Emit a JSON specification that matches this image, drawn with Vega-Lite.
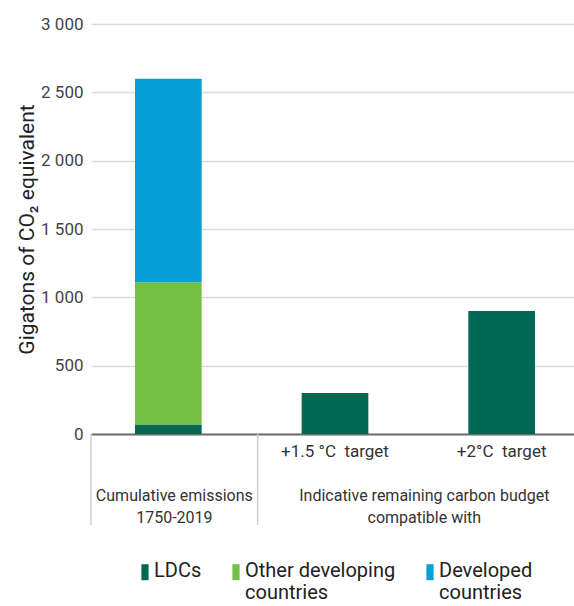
{
  "$schema": "https://vega.github.io/schema/vega-lite/v6.json",
  "width": 483,
  "height": 410,
  "autosize": {"type": "none"},
  "padding": {"left": 91, "top": 24, "right": 0, "bottom": 172},
  "config": {"font": "Roboto", "view": {"stroke": null}},
  "resolve": {"scale": {"x": "independent"}},
  "layer": [
    {
      "data": {"values": [
        {"label": "", "region": "LDCs", "rank": 1, "value": 70},
        {"label": "", "region": "Other developing countries", "rank": 2, "value": 1040},
        {"label": "", "region": "Developed countries", "rank": 3, "value": 1490},
        {"label": "+1.5 °C\u00a0 target", "region": "LDCs", "rank": 1, "value": 300},
        {"label": "+2°C\u00a0 target", "region": "LDCs", "rank": 1, "value": 900}
      ]},
      "mark": {"type": "bar"},
      "encoding": {
        "x": {
          "field": "label", "type": "nominal", "sort": null,
          "scale": {"range": [0, 500], "paddingInner": 0.6, "paddingOuter": 0.3, "align": 0.44},
          "axis": {"title": null, "ticks": false, "domain": true, "domainColor": "#6d6d6d", "domainWidth": 2,
                   "labelFontSize": 17, "labelColor": "#333333", "labelPadding": 9, "labelAngle": 0, "grid": false}
        },
        "y": {
          "field": "value", "type": "quantitative",
          "scale": {"domain": [0, 3000], "nice": false},
          "axis": {"values": [0, 500, 1000, 1500, 2000, 2500, 3000], "title": "Gigatons of CO₂ equivalent",
                   "grid": true, "gridColor": "#dadada", "gridWidth": 1.5, "domain": false, "ticks": false,
                   "labelExpr": "replace(format(datum.value, ','), ',', ' ')",
                   "labelFontSize": 17, "labelColor": "#444444", "labelPadding": 8,
                   "titleFontSize": 21, "titleColor": "#222222", "titleFontWeight": "normal", "titlePadding": 3}
        },
        "order": {"field": "rank", "type": "quantitative", "sort": "ascending"},
        "color": {
          "field": "region", "type": "nominal",
          "sort": ["LDCs", "Other developing countries", "Developed countries"],
          "scale": {"domain": ["LDCs", "Other developing countries", "Developed countries"],
                    "range": ["#006853", "#74c044", "#079fda"]},
          "legend": {"title": null, "orient": "none", "legendX": 44, "legendY": 537, "direction": "horizontal",
                     "labelFontSize": 20, "labelColor": "#222222", "symbolType": "M-0.45,-0.85H0.45V1.15H-0.45Z",
                     "symbolSize": 256, "symbolStrokeWidth": 0, "symbolOpacity": 1, "columnPadding": 24, "labelOffset": -1,
                     "labelExpr": "datum.label === 'Other developing countries' ? ['Other developing', 'countries'] : datum.label === 'Developed countries' ? ['Developed', 'countries'] : [datum.label, '']"}
        }
      }
    },
    {
      "data": {"values": [
        {"group": "Cumulative emissions\n1750-2019", "start": 0, "mid": 0.5},
        {"group": "Indicative remaining carbon budget\ncompatible with", "start": 1, "mid": 2}
      ]},
      "layer": [
        {
          "mark": {"type": "rule", "color": "#d0d0d0", "strokeWidth": 1.5},
          "encoding": {
            "x": {"field": "start", "type": "quantitative", "scale": {"domain": [0, 3], "range": [0, 500]}, "axis": null},
            "y": {"datum": 0},
            "y2": {"datum": -666}
          }
        },
        {
          "mark": {"type": "text", "baseline": "top", "fontSize": 16, "lineHeight": 22, "color": "#333333", "lineBreak": "\n"},
          "encoding": {
            "x": {"field": "mid", "type": "quantitative", "scale": {"domain": [0, 3], "range": [0, 500]}, "axis": null},
            "y": {"datum": -392},
            "text": {"field": "group", "type": "nominal"}
          }
        }
      ]
    }
  ]
}
